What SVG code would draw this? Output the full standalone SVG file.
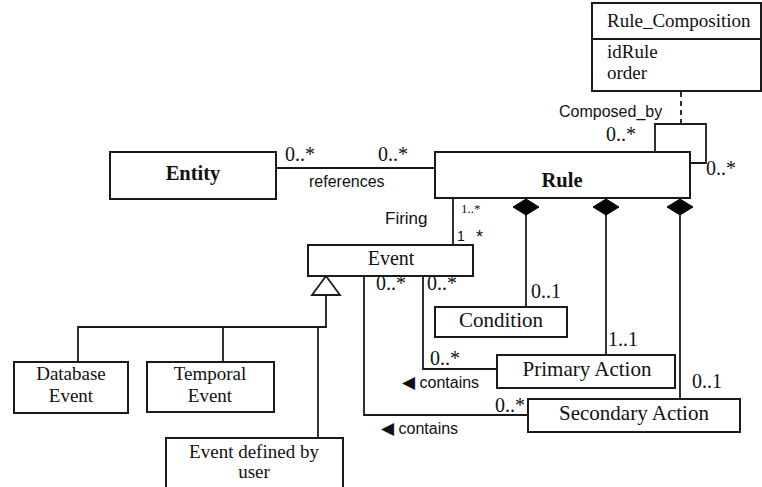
<svg xmlns="http://www.w3.org/2000/svg" width="762" height="487" viewBox="0 0 762 487">
<style>
.box{fill:#fff;stroke:#1a1a1a;stroke-width:2}
.ln{fill:none;stroke:#1a1a1a;stroke-width:1.8}
.dash{fill:none;stroke:#1a1a1a;stroke-width:1.8;stroke-dasharray:5,4}
.dia{fill:#000;stroke:#000;stroke-width:1}
.tri{fill:#fff;stroke:#1a1a1a;stroke-width:1.8}
.serif{font-family:"Liberation Serif","Times New Roman",serif;fill:#111}
.sans{font-family:"Liberation Sans",Arial,sans-serif;fill:#111}
.nm{font-size:20px}
.big{font-size:21px}
.sm{font-size:19px}
.bold{font-weight:bold;font-size:20.5px}
.mult{font-size:20px}
.lbl{font-size:16px}
.arr{font-family:"DejaVu Sans",sans-serif;font-size:17px}
</style>
<rect width="762" height="487" fill="#fff"/>
<g id="connectors">
  <line class="ln" x1="276" y1="168" x2="435" y2="168"/>
  <line class="ln" x1="453" y1="198" x2="453" y2="245"/>
  <path class="ln" d="M655,152 V124 H706 V163 H690"/>
  <line class="dash" x1="681" y1="92" x2="681" y2="124"/>
  <line class="ln" x1="526" y1="214" x2="526" y2="307"/>
  <line class="ln" x1="606" y1="214" x2="606" y2="355"/>
  <line class="ln" x1="680" y1="214" x2="680" y2="399"/>
  <polygon class="dia" points="526,199 539,207 526,215 513,207"/>
  <polygon class="dia" points="606,199 619,207 606,215 593,207"/>
  <polygon class="dia" points="680,199 693,207 680,215 667,207"/>
  <path class="ln" d="M364,277 V415 H528"/>
  <path class="ln" d="M423,277 V369 H497"/>
  <path class="ln" d="M326,295 V327 H78 V362"/>
  <line class="ln" x1="223" y1="327" x2="223" y2="362"/>
  <line class="ln" x1="318" y1="327" x2="318" y2="438"/>
  <polygon class="tri" points="326,276 340,295 312,295"/>
  <text class="serif mult" x="285" y="161">0..*</text>
  <text class="serif mult" x="378" y="161">0..*</text>
  <text class="sans lbl" x="309" y="187">references</text>
  <text class="sans lbl" x="385" y="224" style="font-size:17px">Firing</text>
  <text class="serif" x="461" y="213" style="font-size:13px">1..*</text>
  <text class="sans" x="457" y="241" style="font-size:14px">1</text>
  <text class="sans" x="476" y="243" style="font-size:18px">*</text>
  <text class="sans lbl" x="559" y="117">Composed_by</text>
  <text class="serif mult" x="606" y="141">0..*</text>
  <text class="serif mult" x="706" y="175">0..*</text>
  <text class="serif mult" x="531" y="298">0..1</text>
  <text class="serif mult" x="608" y="346">1..1</text>
  <text class="serif mult" x="692" y="388">0..1</text>
  <text class="serif mult" x="376" y="290">0..*</text>
  <text class="serif mult" x="427" y="290">0..*</text>
  <text class="serif mult" x="430" y="365">0..*</text>
  <text class="serif mult" x="495" y="412">0..*</text>
  <text class="sans lbl" x="402" y="388"><tspan class="arr">◀</tspan> contains</text>
  <text class="sans lbl" x="381" y="434"><tspan class="arr">◀</tspan> contains</text>
</g>
<g id="rule_composition">
  <rect class="box" x="592" y="3" width="169" height="88"/>
  <line class="ln" x1="592" y1="39" x2="761" y2="39"/>
  <text class="serif sm" x="607" y="27">Rule_Composition</text>
  <text class="serif sm" x="607" y="58">idRule</text>
  <text class="serif sm" x="607" y="79">order</text>
</g>
<g id="entity">
  <rect class="box" x="110" y="152" width="166" height="47"/>
  <text class="serif bold" x="193" y="180" text-anchor="middle">Entity</text>
</g>
<g id="rule">
  <rect class="box" x="435" y="152" width="255" height="46"/>
  <text class="serif bold" x="562" y="187" text-anchor="middle">Rule</text>
</g>
<g id="event">
  <rect class="box" x="308" y="245" width="165" height="31"/>
  <text class="serif nm" x="391" y="265" text-anchor="middle">Event</text>
</g>
<g id="condition">
  <rect class="box" x="435" y="307" width="132" height="30"/>
  <text class="serif big" x="501" y="327" text-anchor="middle">Condition</text>
</g>
<g id="primary_action">
  <rect class="box" x="497" y="355" width="178" height="33"/>
  <text class="serif big" x="587" y="376" text-anchor="middle">Primary Action</text>
</g>
<g id="secondary_action">
  <rect class="box" x="528" y="399" width="212" height="33"/>
  <text class="serif big" x="634" y="420" text-anchor="middle">Secondary Action</text>
</g>
<g id="database_event">
  <rect class="box" x="14" y="362" width="114" height="51"/>
  <text class="serif sm" x="71" y="380" text-anchor="middle">Database</text>
  <text class="serif sm" x="71" y="402" text-anchor="middle">Event</text>
</g>
<g id="temporal_event">
  <rect class="box" x="147" y="362" width="127" height="50"/>
  <text class="serif sm" x="210" y="380" text-anchor="middle">Temporal</text>
  <text class="serif sm" x="210" y="402" text-anchor="middle">Event</text>
</g>
<g id="event_defined_by_user">
  <rect class="box" x="166" y="438" width="177" height="60"/>
  <text class="serif sm" x="254" y="458" text-anchor="middle">Event defined by</text>
  <text class="serif sm" x="254" y="478" text-anchor="middle">user</text>
</g>
</svg>
